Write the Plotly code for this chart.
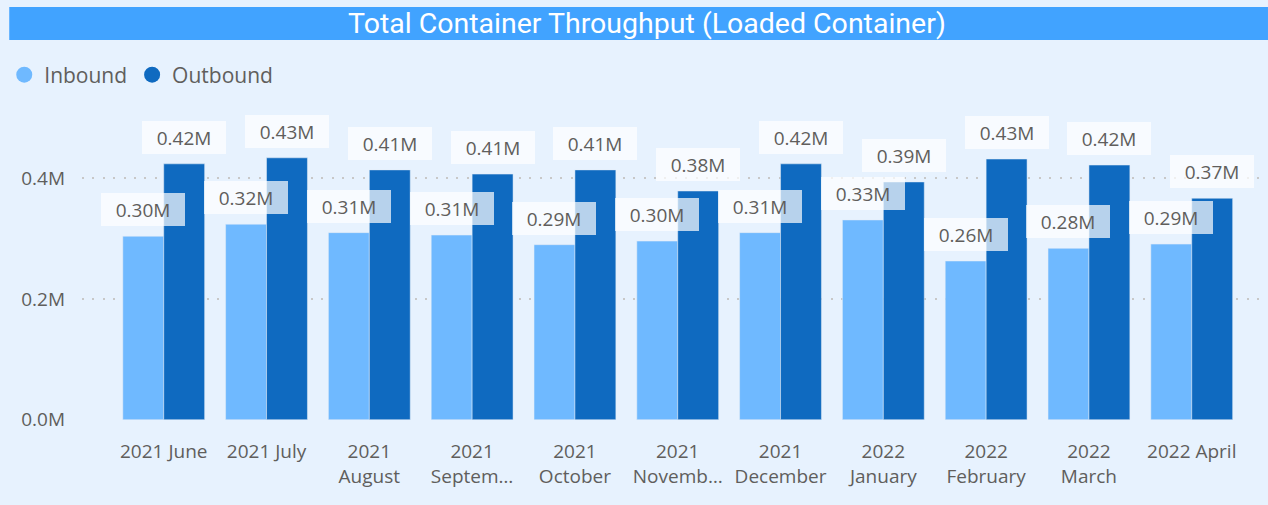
import plotly.graph_objects as go

# ---- data ----
categories = ["2021 June", "2021 July", "2021<br>August", "2021<br>Septem…", "2021<br>October",
              "2021<br>Novemb…", "2021<br>December", "2022<br>January", "2022<br>February",
              "2022<br>March", "2022 April"]
inbound = [0.304, 0.324, 0.310, 0.306, 0.290, 0.296, 0.310, 0.331, 0.263, 0.284, 0.291]
outbound = [0.424, 0.434, 0.414, 0.407, 0.414, 0.379, 0.424, 0.394, 0.432, 0.422, 0.367]
series_names = ["Inbound", "Outbound"]
y_tick_values = [0.0, 0.2, 0.4]
title_text = "Total Container Throughput (Loaded Container)"

# ---- style ----
W, H = 1268, 505
ML, MR, MT, MB = 78, 4, 100, 85
PW, PH = W - ML - MR, H - MT - MB
BG = "#E7F2FE"
C_IN = "#6FB9FF"
C_OUT = "#0F6AC0"
TITLE_BG = "#41A3FF"
TXT = "#605E5C"
FONT = "Segoe UI, Open Sans, Noto Sans, sans-serif"

px_per_unit = 120.8 / 0.2
y_top = PH / px_per_unit
cat_px = 103.15
x_lo = -(160 - ML) / cat_px
x_hi = x_lo + PW / cat_px

fig = go.Figure()
fig.add_trace(go.Bar(x=categories, y=inbound, name=series_names[0], marker_color=C_IN,
                     showlegend=False, hoverinfo="x+y"))
fig.add_trace(go.Bar(x=categories, y=outbound, name=series_names[1], marker_color=C_OUT,
                     showlegend=False, hoverinfo="x+y"))
# legend entries with circle symbols
for nm, col in zip(series_names, [C_IN, C_OUT]):
    fig.add_trace(go.Scatter(x=[None], y=[None], mode="markers", name=nm,
                             marker=dict(symbol="circle", size=16, color=col)))

bar_px = cat_px * (1 - 0.204) / 2
annotations = []
for vals, sgn in [(inbound, -1), (outbound, 1)]:
    for c, v in zip(categories, vals):
        annotations.append(dict(
            x=c, y=v, xref="x", yref="y", text=f"{v:.2f}M", showarrow=False,
            xanchor="center", yanchor="bottom", xshift=sgn * bar_px / 2, yshift=10,
            bgcolor="rgba(255,255,255,0.7)", borderpad=3, borderwidth=0,
            width=78, height=27, font=dict(family=FONT, size=19, color=TXT)))

# title text
annotations.append(dict(
    x=(645 - ML) / PW, y=(PH + MT - 24) / PH, xref="paper", yref="paper",
    text=title_text, showarrow=False, xanchor="center", yanchor="middle",
    font=dict(family="Roboto, sans-serif", size=28.5, color="white", weight=400)))

fig.update_layout(
    width=W, height=H,
    margin=dict(l=ML, r=MR, t=MT, b=MB, pad=0),
    paper_bgcolor=BG, plot_bgcolor=BG,
    barmode="group", bargap=0.204, bargroupgap=0,
    font=dict(family=FONT, color=TXT, size=19),
    showlegend=True,
    legend=dict(orientation="h", x=(0 - ML) / PW, xanchor="left",
                y=(PH + MT - 75) / PH, yanchor="middle",
                font=dict(family=FONT, size=21, color=TXT),
                bgcolor="rgba(0,0,0,0)", itemwidth=30, tracegroupgap=0),
    annotations=annotations,
    shapes=[dict(type="rect", xref="paper", yref="paper",
                 x0=(5 - ML) / PW, x1=(W - ML) / PW,
                 y0=(PH + MT - 40) / PH, y1=(PH + MT - 7) / PH,
                 fillcolor=TITLE_BG, line=dict(width=0), layer="below")],
)
fig.update_xaxes(range=[x_lo, x_hi], showgrid=False, zeroline=False, showline=False,
                 ticks="", tickfont=dict(family=FONT, size=19, color=TXT),
                 ticklabelstandoff=18, fixedrange=True)
fig.update_yaxes(range=[-0.0005, y_top], tickvals=y_tick_values,
                 ticktext=[f"{t:.1f}M" for t in y_tick_values],
                 showgrid=True, gridcolor="#C8C8C8", gridwidth=2, griddash="2px,8.4px",
                 zeroline=False, showline=False, ticks="",
                 tickfont=dict(family=FONT, size=19, color=TXT),
                 ticklabelstandoff=16, fixedrange=True)

fig.write_html("out.html", config={"displayModeBar": False},
               post_script="document.body.style.margin='0';document.body.style.overflow='hidden';")
